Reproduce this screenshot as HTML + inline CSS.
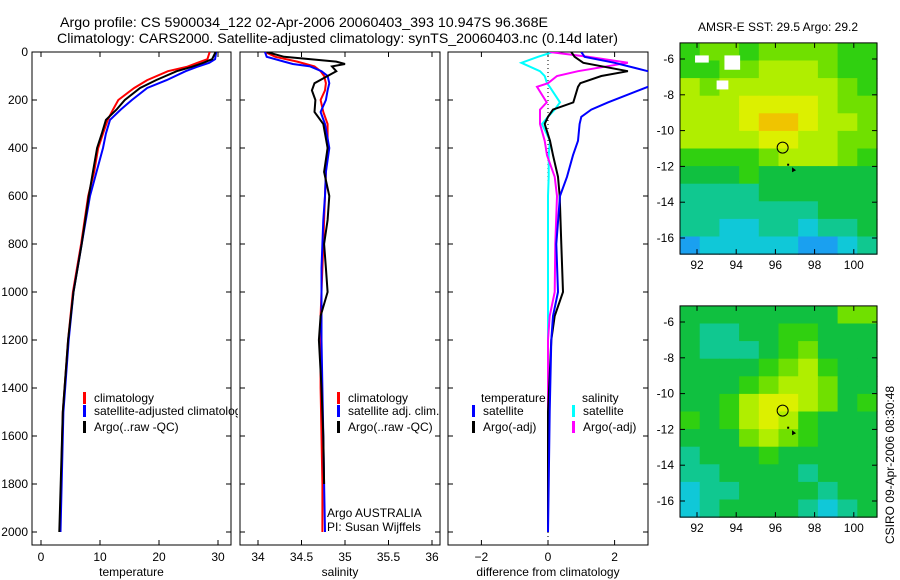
<!DOCTYPE html>
<html><head><meta charset="utf-8">
<style>
html,body{margin:0;padding:0;background:#fff;}
svg{display:block;font-family:"Liberation Sans",sans-serif;font-size:12px;}
</style></head>
<body>
<svg id="c" width="900" height="580" viewBox="0 0 900 580">
<text x="60" y="27" font-size="14" textLength="488" lengthAdjust="spacingAndGlyphs">Argo profile: CS 5900034_122 02-Apr-2006 20060403_393 10.947S 96.368E</text>
<text x="57" y="43" font-size="14" textLength="561" lengthAdjust="spacingAndGlyphs">Climatology: CARS2000. Satellite-adjusted climatology: synTS_20060403.nc (0.14d later)</text>
<text x="778" y="31" text-anchor="middle">AMSR-E SST: 29.5 Argo: 29.2</text>
<text x="778" y="319" text-anchor="middle">Altimetric SLA: 0.11 Argo: -0.041</text>
<text transform="translate(894,465) rotate(-90)" text-anchor="middle">CSIRO 09-Apr-2006 08:30:48</text>
<defs><clipPath id="legclip"><rect x="0" y="0" width="238" height="580"/></clipPath></defs>
</svg>
<script>
// ---- data ----
const tDepth=[0,30,45,62,80,117,150,200,240,283,340,400,500,600,800,1000,1200,1500,2000];
const tClim=[28.6,28.2,26.5,24.7,21.5,18,15.8,13.1,12.2,11.3,10.5,9.7,9.0,8.0,6.8,5.4,4.6,3.7,3.2];
const tSat=[29.7,29.5,28.5,26.4,24.5,21.3,18.0,15.4,13.5,11.7,11.0,10.5,9.4,8.3,6.9,5.5,4.7,3.8,3.3];
const tArgo=[29.6,29.0,27.5,25.5,23.0,19.5,16.8,14.2,12.8,11.0,10.3,9.5,8.8,8.1,6.9,5.5,4.6,3.7,3.1];
const sDepth=[0,20,40,50,60,80,100,130,160,200,250,300,400,500,600,700,800,900,1000,1100,1200,1400,1600,1800,2000];
const sClim=[34.08,34.2,34.45,34.55,34.65,34.72,34.76,34.78,34.77,34.72,34.75,34.8,34.8,34.78,34.77,34.76,34.75,34.74,34.73,34.72,34.72,34.72,34.73,34.74,34.74];
const sSat=[34.08,34.1,34.3,34.4,34.6,34.73,34.8,34.82,34.8,34.78,34.72,34.77,34.82,34.78,34.77,34.75,34.74,34.73,34.73,34.73,34.73,34.74,34.75,34.76,34.77];
const sArgo=[34.1,34.3,34.9,35.0,34.85,34.9,34.8,34.65,34.62,34.66,34.65,34.75,34.8,34.76,34.82,34.8,34.76,34.78,34.8,34.72,34.7,34.73,34.75,34.76,null];
const dDepth=[0,20,45,80,100,130,145,210,240,270,300,370,430,520,600,800,1000,1100,1200,1500,1800,2000];
const dTSat=[1.0,1.1,2.0,3.0,3.4,3.4,3.0,1.8,1.3,1.0,0.95,0.9,0.75,0.57,0.36,0.25,0.3,0.15,0.1,0.05,0.02,0];
const dTArgo=[0.7,0.8,1.06,2.4,1.6,0.97,0.9,0.76,0.15,0.0,-0.1,0.06,0.15,0.3,0.35,0.4,0.45,0.2,0.1,0.0,0.0,0];
const dSSat=[0.15,-0.3,-0.8,-0.24,-0.1,-0.03,0.05,0.36,0.2,0.0,-0.18,0.06,0.02,0.02,0.0,0.0,0.0,0.0,0.0,0.0,0.0,0];
const dSArgo=[0.05,1.2,2.4,0.9,0.27,0.0,-0.33,-0.04,-0.24,-0.24,-0.24,-0.1,-0.03,0.2,0.27,0.22,0.2,0.05,0.0,0.0,0.0,0];
const depthTicks=[0,200,400,600,800,1000,1200,1400,1600,1800,2000];
const tTicks=[0,10,20,30];
const sTicks=[34,34.5,35,35.5,36];
const sTickLabels=["34","34.5","35","35.5","36"];
const dTicks=[-2,0,2];
const dTickLabels=["\u22122","0","2"];
const lonTicks=[92,94,96,98,100];
const latTicks=[-6,-8,-10,-12,-14,-16];
const sstGrid=["effeffffee","eeffgggfee","gfggggggfe","ggghhhhgff","ggghiihggf","gggghhggff","eeeefgggfe","dddedddddd","ccccdddddd","cccccccddd","ccbbccbccd","abbbbbaabc"];
const slaGrid=["ddddddddff","dccddeeddd","dcccdefddd","ddddefgedd","dddefggfdd","ddeghhgfde","edeghgeddd","dddfgfeddd","cdddeddddd","ccddddcddd","bccddddcdd","bcddddcbcd"];
const palette={a:"#1aa0f0",b:"#10c8d8",c:"#10c890",d:"#10c040",e:"#30d010",f:"#70e000",g:"#b0ee00",h:"#dcf000",i:"#f0c400"};

const svg=document.getElementById('c');
const NS="http://www.w3.org/2000/svg";
function mk(tag,attrs,parent){const e=document.createElementNS(NS,tag);for(const k in attrs)e.setAttribute(k,attrs[k]);(parent||svg).appendChild(e);return e;}
const yD=d=>52+d*0.24;
const TOPY=52,BOTY=545;
const panels=[
 {l:32,r:231,x:v=>41+v*5.9,ticks:tTicks,labels:tTicks.map(String),title:"temperature",name:"temperature-panel"},
 {l:240,r:440,x:v=>258+(v-34)*87,ticks:sTicks,labels:sTickLabels,title:"salinity",name:"salinity-panel"},
 {l:448,r:648,x:v=>548+v*33.3,ticks:dTicks,labels:dTickLabels,title:"difference from climatology",name:"difference-panel"}
];
panels.forEach((p,i)=>{
 const g=mk('g',{});
 
 
 const cp=mk('clipPath',{id:'cp'+i},g);mk('rect',{x:p.l,y:TOPY,width:p.r-p.l,height:BOTY-TOPY},cp);
 const fr=mk('rect',{x:p.l,y:TOPY,width:p.r-p.l,height:BOTY-TOPY,fill:'none',stroke:'#000','stroke-width':1},g);
 
 
 depthTicks.forEach(d=>{
  mk('line',{x1:p.l,x2:p.l+5,y1:yD(d),y2:yD(d),stroke:'#000'},g);
  mk('line',{x1:p.r,x2:p.r-5,y1:yD(d),y2:yD(d),stroke:'#000'},g);
  if(i===0){const t=mk('text',{x:28,y:yD(d)+4,'text-anchor':'end'},g);t.textContent=d;
   
   }
 });
 p.ticks.forEach((v,k)=>{
  const x=p.x(v);
  mk('line',{x1:x,x2:x,y1:TOPY,y2:TOPY+5,stroke:'#000'},g);
  mk('line',{x1:x,x2:x,y1:BOTY,y2:BOTY-5,stroke:'#000'},g);
  const t=mk('text',{x:x,y:561,'text-anchor':'middle'},g);t.textContent=p.labels[k];
  
  
 });
 const tt=mk('text',{x:(p.l+p.r)/2,y:576,'text-anchor':'middle'},g);tt.textContent=p.title;
 
 
 p.g=g;
});
function line(pi,depths,vals,color,name,w){
 const p=panels[pi];let dstr="",pen=false;
 depths.forEach((d,k)=>{const v=vals[k];if(v===null||v===undefined){pen=false;return;}
  dstr+=(pen?"L":"M")+p.x(v).toFixed(1)+","+yD(d).toFixed(1);pen=true;});
 const e=mk('path',{d:dstr,fill:'none',stroke:color,'stroke-width':w||2,'clip-path':'url(#cp'+pi+')'},p.g);
 
 
}
const zl=mk('line',{x1:panels[2].x(0),x2:panels[2].x(0),y1:TOPY,y2:BOTY,stroke:'#000','stroke-dasharray':'1,3'},panels[2].g);


line(0,tDepth,tClim,'#f00','temp-climatology-line');
line(0,tDepth,tSat,'#00f','temp-satellite-line');
line(0,tDepth,tArgo,'#000','temp-argo-line');
line(1,sDepth,sClim,'#f00','sal-climatology-line');
line(1,sDepth,sSat,'#00f','sal-satellite-line');
line(1,sDepth,sArgo,'#000','sal-argo-line');
line(2,dDepth,dSSat,'#0ff','diff-sal-satellite-line');
line(2,dDepth,dSArgo,'#f0f','diff-sal-argo-line');
line(2,dDepth,dTArgo,'#000','diff-temp-argo-line');
line(2,dDepth,dTSat,'#00f','diff-temp-satellite-line');
function leg(x,y,color,text,name,tx,clip){
 const g=mk('g',{});
 
 
 if(clip)g.setAttribute('clip-path','url(#legclip)');
 if(color)mk('rect',{x:x,y:y-10,width:3,height:12,fill:color},g);
 const t=mk('text',{x:tx!==undefined?tx:x+11,y:y},g);t.textContent=text;
}
leg(83,402,'#f00','climatology','legend-temp-climatology');
leg(83,415,'#00f','satellite-adjusted climatology','legend-temp-satellite',undefined,true);
leg(83,431,'#000','Argo(..raw -QC)','legend-temp-argo');
leg(337,402,'#f00','climatology','legend-sal-climatology');
leg(337,415,'#00f','satellite adj. clim.','legend-sal-satellite');
leg(337,431,'#000','Argo(..raw -QC)','legend-sal-argo');
leg(470,402,null,'temperature','legend-temp-header',481);
leg(572,402,null,'salinity','legend-sal-header',582);
leg(472,415,'#00f','satellite','legend-diff-temp-satellite');
leg(472,431,'#000','Argo(-adj)','legend-diff-temp-argo');
leg(572,415,'#0ff','satellite','legend-diff-sal-satellite');
leg(572,431,'#f0f','Argo(-adj)','legend-diff-sal-argo');
leg(0,517,null,'Argo AUSTRALIA','argo-agency-label',327);
leg(0,531,null,'PI: Susan Wijffels','pi-label',327);
const lonX=lon=>697+(lon-92)*19.6;
function map(grid,y0,name,whites){
 const latY=lat=>y0+16+(-6-lat)*17.9;
 const g=mk('g',{});
 
 
 const L=680,R=877,T=latY(-5.1),B=latY(-16.9);
 const cw=(R-L)/10,ch=(B-T)/12;
 grid.forEach((row,r)=>{for(let c=0;c<10;c++){
  mk('rect',{x:L+c*cw,y:T+r*ch,width:cw+0.6,height:ch+0.6,fill:palette[row[c]]},g);}});
 (whites||[]).forEach(w=>mk('rect',{x:lonX(w[0]),y:latY(w[1]),width:w[2]*19.6,height:w[3]*17.9,fill:'#fff'},g));
 mk('rect',{x:L,y:T,width:R-L,height:B-T,fill:'none',stroke:'#000'},g);
 lonTicks.forEach(v=>{const x=lonX(v);
  mk('line',{x1:x,x2:x,y1:B,y2:B-5,stroke:'#000'},g);mk('line',{x1:x,x2:x,y1:T,y2:T+5,stroke:'#000'},g);
  const t=mk('text',{x:x,y:B+15,'text-anchor':'middle'},g);t.textContent=v;
  
  });
 latTicks.forEach(v=>{const y=latY(v);
  mk('line',{x1:L,x2:L+5,y1:y,y2:y,stroke:'#000'},g);mk('line',{x1:R,x2:R-5,y1:y,y2:y,stroke:'#000'},g);
  const t=mk('text',{x:L-6,y:y+4,'text-anchor':'end'},g);t.textContent=v;
  
  });
 const c=mk('circle',{cx:lonX(96.37),cy:latY(-10.95),r:5.5,fill:'none',stroke:'#000','stroke-width':1},g);
 
 
 mk('rect',{x:lonX(96.6),y:latY(-11.85),width:2,height:2,fill:'#000'},g);
 mk('path',{d:`M${lonX(96.85)},${latY(-12.05)} l4,3 l-4,2 z`,fill:'#000'},g);
}
map(sstGrid,43,'sst-map',[[91.9,-5.8,0.7,0.4],[93.4,-5.8,0.8,0.8],[93,-7.2,0.6,0.5]]);
map(slaGrid,306,'sla-map');
</script>
</body></html>
